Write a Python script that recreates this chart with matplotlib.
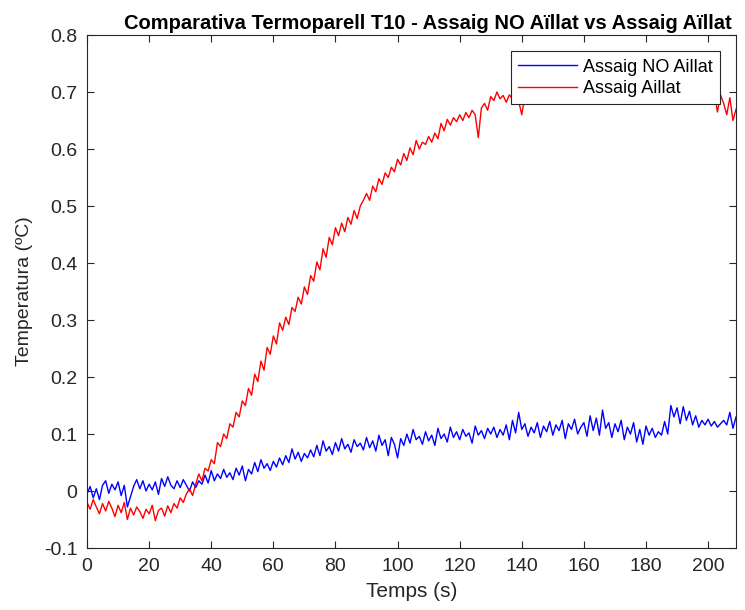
import numpy as np
import matplotlib
matplotlib.use("Agg")
import matplotlib.pyplot as plt
from matplotlib.ticker import FixedLocator, FuncFormatter

plt.rcParams['font.family'] = ['Liberation Sans', 'DejaVu Sans']

# Time in seconds, one sample per second
temps = np.arange(0, 210, 1)

# Thermocouple T10, test without insulation
no_aillat = [
    -0.005, 0.008, -0.012, 0.004, -0.015, 0.010, 0.018, -0.004, 0.012, 0.002,
    0.016, -0.008, 0.010, -0.028, -0.010, 0.008, 0.020, 0.004, 0.018, 0.000,
    0.012, 0.002, 0.016, -0.006, 0.022, 0.008, 0.025, 0.010, 0.004, 0.018,
    0.006, 0.020, 0.010, 0.000, 0.016, 0.006, 0.018, 0.012, 0.028, 0.014,
    0.036, 0.018, 0.030, 0.022, 0.038, 0.024, 0.032, 0.020, 0.040, 0.028,
    0.044, 0.018, 0.038, 0.030, 0.050, 0.034, 0.055, 0.040, 0.048, 0.036,
    0.052, 0.042, 0.058, 0.046, 0.062, 0.050, 0.074, 0.056, 0.068, 0.052,
    0.066, 0.058, 0.072, 0.060, 0.080, 0.062, 0.088, 0.070, 0.078, 0.064,
    0.085, 0.070, 0.092, 0.074, 0.082, 0.068, 0.090, 0.078, 0.084, 0.072,
    0.094, 0.076, 0.088, 0.070, 0.098, 0.080, 0.090, 0.062, 0.094, 0.082,
    0.058, 0.092, 0.080, 0.100, 0.084, 0.108, 0.090, 0.096, 0.082, 0.104,
    0.088, 0.098, 0.080, 0.110, 0.092, 0.100, 0.086, 0.112, 0.094, 0.104,
    0.090, 0.108, 0.096, 0.102, 0.084, 0.114, 0.098, 0.106, 0.092, 0.110,
    0.100, 0.112, 0.094, 0.108, 0.098, 0.116, 0.090, 0.124, 0.102, 0.138,
    0.108, 0.118, 0.096, 0.112, 0.102, 0.120, 0.094, 0.114, 0.104, 0.122,
    0.098, 0.116, 0.106, 0.124, 0.092, 0.118, 0.108, 0.126, 0.100, 0.112,
    0.120, 0.096, 0.132, 0.106, 0.128, 0.098, 0.142, 0.110, 0.120, 0.094,
    0.118, 0.104, 0.124, 0.090, 0.112, 0.100, 0.120, 0.086, 0.108, 0.082,
    0.114, 0.098, 0.110, 0.094, 0.104, 0.098, 0.122, 0.100, 0.150, 0.130,
    0.146, 0.118, 0.148, 0.124, 0.140, 0.116, 0.132, 0.112, 0.124, 0.116,
    0.126, 0.114, 0.122, 0.112, 0.118, 0.124, 0.116, 0.138, 0.110, 0.130,
]

# Thermocouple T10, insulated test
aillat = [
    -0.020, -0.032, -0.015, -0.028, -0.040, -0.022, -0.035, -0.018, -0.030, -0.045,
    -0.025, -0.038, -0.020, -0.050, -0.030, -0.042, -0.028, -0.036, -0.048, -0.032,
    -0.040, -0.025, -0.052, -0.034, -0.030, -0.044, -0.026, -0.038, -0.022, -0.030,
    -0.012, -0.020, -0.005, 0.004, -0.008, 0.012, 0.030, 0.018, 0.040, 0.035,
    0.055, 0.048, 0.085, 0.078, 0.100, 0.092, 0.118, 0.112, 0.138, 0.130,
    0.158, 0.150, 0.180, 0.168, 0.205, 0.192, 0.228, 0.212, 0.252, 0.240,
    0.272, 0.258, 0.295, 0.282, 0.305, 0.292, 0.322, 0.315, 0.340, 0.328,
    0.358, 0.345, 0.378, 0.368, 0.402, 0.388, 0.425, 0.410, 0.445, 0.432,
    0.462, 0.448, 0.470, 0.455, 0.480, 0.468, 0.492, 0.478, 0.500, 0.510,
    0.522, 0.510, 0.535, 0.525, 0.548, 0.538, 0.558, 0.550, 0.568, 0.560,
    0.582, 0.572, 0.592, 0.580, 0.602, 0.590, 0.615, 0.600, 0.612, 0.608,
    0.622, 0.612, 0.628, 0.618, 0.645, 0.632, 0.652, 0.642, 0.655, 0.648,
    0.660, 0.650, 0.664, 0.655, 0.668, 0.660, 0.620, 0.672, 0.680, 0.668,
    0.692, 0.685, 0.700, 0.688, 0.694, 0.682, 0.695, 0.688, 0.698, 0.684,
    0.660, 0.695, 0.705, 0.690, 0.710, 0.698, 0.712, 0.700, 0.708, 0.695,
    0.702, 0.715, 0.698, 0.710, 0.695, 0.720, 0.705, 0.712, 0.700, 0.718,
    0.706, 0.714, 0.700, 0.722, 0.708, 0.716, 0.702, 0.712, 0.698, 0.720,
    0.710, 0.704, 0.718, 0.700, 0.714, 0.706, 0.722, 0.708, 0.700, 0.716,
    0.704, 0.718, 0.710, 0.700, 0.720, 0.706, 0.714, 0.702, 0.716, 0.708,
    0.712, 0.700, 0.718, 0.706, 0.714, 0.698, 0.710, 0.704, 0.716, 0.700,
    0.705, 0.690, 0.700, 0.665, 0.695, 0.680, 0.660, 0.690, 0.650, 0.670,
]

x_ticks = [0, 20, 40, 60, 80, 100, 120, 140, 160, 180, 200]
y_ticks = [-0.1, 0, 0.1, 0.2, 0.3, 0.4, 0.5, 0.6, 0.7, 0.8]

fig = plt.figure(figsize=(7.45, 6.1), dpi=100)
ax = fig.add_axes([0.1168, 0.1016, 0.8712, 0.841])

ax.plot(temps, no_aillat, color=(0, 0, 1), lw=1.0, label='Assaig NO Aillat')
ax.plot(temps, aillat, color=(1, 0, 0), lw=1.0, label='Assaig Aillat')

ax.set_xlim(0, 209)
ax.set_ylim(-0.1, 0.8)
ax.xaxis.set_major_locator(FixedLocator(x_ticks))
ax.yaxis.set_major_locator(FixedLocator(y_ticks))
ax.yaxis.set_major_formatter(FuncFormatter(lambda v, p: '0' if abs(v) < 1e-9 else f'{v:g}'))
ax.tick_params(direction='in', top=True, right=True, length=5, width=0.8,
               labelsize=14, colors='#262626', pad=7)
for s in ax.spines.values():
    s.set_linewidth(0.8)
    s.set_color('#262626')

ax.set_xlabel('Temps (s)', fontsize=15, color='#262626', labelpad=5)
ax.set_ylabel('Temperatura (ºC)', fontsize=14, color='#262626', labelpad=8)
ax.set_title('Comparativa Termoparell T10 - Assaig NO Aïllat vs Assaig Aïllat',
             fontsize=14.5, fontweight='bold', color='#000000', pad=4, x=0.525)

leg = ax.legend(loc='upper right', bbox_to_anchor=(0.975, 0.968), fontsize=13,
                frameon=True, fancybox=False, framealpha=1, edgecolor='#262626',
                handlelength=3.3, borderpad=0.4, labelspacing=0.25, handletextpad=0.3,
                borderaxespad=0)
leg.get_frame().set_linewidth(0.8)

fig.savefig('out.png', dpi=100)
